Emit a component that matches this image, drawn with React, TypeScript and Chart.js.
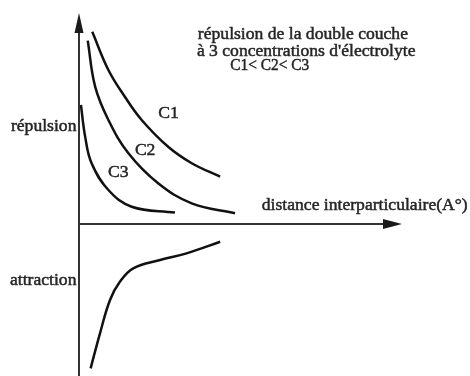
import React, { useEffect, useRef } from "react";
import { Chart, registerables } from "chart.js";

Chart.register(...registerables);

// Schematic data (distance in arbitrary units, energy in arbitrary units)
const c1X = [0.41, 0.91, 1.42, 1.94, 2.76, 3.49, 4.37];
const c1Y = [9.11, 7.3, 6.03, 4.93, 3.66, 2.88, 2.24];
const c2X = [0.27, 0.5, 0.91, 1.53, 2.45, 3.49, 4.83];
const c2Y = [8.69, 6.51, 4.93, 3.35, 1.93, 0.98, 0.51];
const c3X = [0.06, 0.19, 0.39, 0.91, 1.63, 2.97];
const c3Y = [5.64, 4.14, 2.88, 1.61, 0.82, 0.54];
const attrX = [0.36, 0.65, 0.96, 1.27, 1.68, 2.51, 3.33, 4.37];
const attrY = [-6.84, -5.18, -3.6, -2.73, -2.1, -1.71, -1.39, -0.84];

const xAxisEnd = 10;
const yAxisTop = 10;
const yAxisBottom = -7.4;

const labelTexts = [
  "répulsion de la double couche",
  "à 3 concentrations d'électrolyte",
  "C1< C2< C3",
  "distance interparticulaire(A°)",
  "répulsion",
  "attraction",
  "C1",
  "C2",
  "C3",
];
const labelX = [3.68, 3.65, 4.68, 5.66, -0.08, -0.08, 2.45, 1.73, 0.9];
const labelY = [8.75, 7.95, 7.3, 0.66, 4.4, -2.89, 5.0, 3.27, 2.23];
const labelAlign = ["left", "left", "left", "left", "right", "right", "left", "left", "left"];
const labelMaxW = [0, 0, 79, 0, 0, 0, 0, 0, 0];

const X_MIN = -2.446;
const X_MAX = 12.105;
const Y_MIN = -7.204;
const Y_MAX = 10.616;

const toPts = (xs: number[], ys: number[]) => xs.map((x, i) => ({ x, y: ys[i] }));

const decorPlugin = {
  id: "decor",
  afterDatasetsDraw(chart: any) {
    const { ctx, scales } = chart;
    const xs = scales.x;
    const ys = scales.y;
    const px = (v: number) => xs.getPixelForValue(v);
    const py = (v: number) => ys.getPixelForValue(v);
    ctx.save();
    ctx.fillStyle = "#1a1a1a";
    // y arrow
    const ox = px(0);
    const tipY = py(yAxisTop);
    ctx.beginPath();
    ctx.moveTo(ox, tipY);
    ctx.lineTo(ox - 4.5, tipY + 20);
    ctx.lineTo(ox + 4.5, tipY + 20);
    ctx.closePath();
    ctx.fill();
    // x arrow
    const oy = py(0);
    const tipX = px(xAxisEnd);
    ctx.beginPath();
    ctx.moveTo(tipX, oy);
    ctx.lineTo(tipX - 19, oy - 5);
    ctx.lineTo(tipX - 19, oy + 5);
    ctx.closePath();
    ctx.fill();
    // labels
    ctx.font = "17.6px 'Liberation Serif', serif";
    ctx.fillStyle = "#262626";
    ctx.strokeStyle = "#262626";
    ctx.lineWidth = 0.5;
    ctx.textBaseline = "alphabetic";
    labelTexts.forEach((t, i) => {
      ctx.textAlign = labelAlign[i];
      const x = px(labelX[i]);
      const y = py(labelY[i]);
      if (labelMaxW[i]) {
        ctx.fillText(t, x, y, labelMaxW[i]);
        ctx.strokeText(t, x, y, labelMaxW[i]);
      } else {
        ctx.fillText(t, x, y);
        ctx.strokeText(t, x, y);
      }
    });
    ctx.restore();
  },
};

export default function App() {
  const ref = useRef<HTMLCanvasElement>(null);
  useEffect(() => {
    if (!ref.current) return;
    const curve = (xs: number[], ys: number[]) => ({
      data: toPts(xs, ys),
      showLine: true,
      borderColor: "#111",
      borderWidth: 2.5,
      pointRadius: 0,
      tension: 0.4,
      fill: false,
    });
    const axisLine = (pts: { x: number; y: number }[]) => ({
      data: pts,
      showLine: true,
      borderColor: "#333",
      borderWidth: 2,
      pointRadius: 0,
      tension: 0,
      fill: false,
    });
    const chart = new Chart(ref.current, {
      type: "scatter",
      data: {
        datasets: [
          axisLine([
            { x: 0, y: yAxisBottom },
            { x: 0, y: yAxisTop - 0.5 },
          ]),
          axisLine([
            { x: 0, y: 0 },
            { x: xAxisEnd - 0.3, y: 0 },
          ]),
          curve(c1X, c1Y),
          curve(c2X, c2Y),
          curve(c3X, c3Y),
          curve(attrX, attrY),
        ] as any,
      },
      options: {
        animation: false,
        responsive: false,
        layout: { padding: 0 },
        scales: {
          x: { type: "linear", display: false, min: X_MIN, max: X_MAX },
          y: { type: "linear", display: false, min: Y_MIN, max: Y_MAX },
        },
        plugins: { legend: { display: false }, tooltip: { enabled: false } },
      },
      plugins: [decorPlugin],
    });
    return () => chart.destroy();
  }, []);
  return (
    <div style={{ position: "absolute", left: 0, top: 0, width: 470, height: 376, background: "#fff" }}>
      <canvas ref={ref} width={470} height={376} />
    </div>
  );
}
